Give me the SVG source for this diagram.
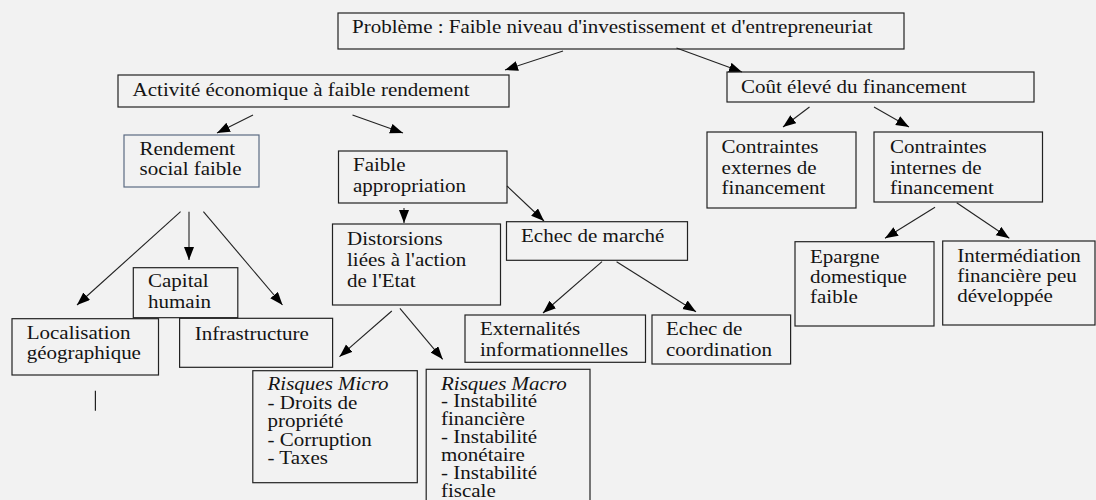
<svg xmlns="http://www.w3.org/2000/svg" width="1096" height="500" viewBox="0 0 1096 500">
  <defs>
    <marker id="ah" markerUnits="userSpaceOnUse" markerWidth="14" markerHeight="12" refX="13" refY="5" orient="auto">
      <path d="M0,0 L13,5 L0,10 Z" fill="#000"/>
    </marker>
    <style>
      .box { fill: none; stroke: #222; stroke-width: 1.2; }
      .box-blue { fill: none; stroke: #5b6b82; stroke-width: 1.2; }
      .t { font-size: 18px; fill: #141414; }
      .it { font-style: italic; }
      .edge { stroke: #222; stroke-width: 1.1; fill: none; marker-end: url(#ah); }
    </style>
  </defs>

  <rect width="1096" height="500" fill="#f2f2f2"/>

  <!-- connectors -->
  <g id="connectors">
    <line class="edge" x1="563" y1="51" x2="505" y2="70"/>
    <line class="edge" x1="676.5" y1="48" x2="742" y2="72"/>
    <line class="edge" x1="253" y1="115" x2="217" y2="133"/>
    <line class="edge" x1="352.5" y1="115" x2="403" y2="133"/>
    <line class="edge" x1="809.5" y1="107" x2="783" y2="127"/>
    <line class="edge" x1="874" y1="107" x2="909" y2="127"/>
    <line class="edge" x1="507" y1="186" x2="544" y2="221"/>
    <line class="edge" x1="404" y1="208" x2="404" y2="223"/>
    <line class="edge" x1="935" y1="207.3" x2="885" y2="238.3"/>
    <line class="edge" x1="956.7" y1="202.7" x2="1009.3" y2="238.3"/>
    <line class="edge" x1="180.6" y1="211.7" x2="77" y2="305"/>
    <line class="edge" x1="189" y1="211.7" x2="189" y2="260"/>
    <line class="edge" x1="203.4" y1="211.7" x2="282.5" y2="305"/>
    <line class="edge" x1="602" y1="261.7" x2="543" y2="313"/>
    <line class="edge" x1="616.6" y1="261.7" x2="696" y2="311.7"/>
    <line class="edge" x1="391.8" y1="311" x2="339.5" y2="356.7"/>
    <line class="edge" x1="399.9" y1="308.3" x2="442.7" y2="359.3"/>
    <line x1="95.4" y1="390.7" x2="95.4" y2="410.7" stroke="#222" stroke-width="1.2"/>
  </g>

  <g id="nodes" font-family="'Liberation Serif', 'DejaVu Serif', serif">
  <g id="n-probleme">
    <rect class="box" x="338" y="13" width="566" height="36"/>
    <text class="t" transform="translate(352,33) scale(1.167,1)">Problème : Faible niveau d'investissement et d'entrepreneuriat</text>
  </g>

  <g id="n-activite">
    <rect class="box" x="118" y="75" width="391" height="32"/>
    <text class="t" transform="translate(132.6,96) scale(1.167,1)">Activité économique à faible rendement</text>
  </g>

  <g id="n-cout">
    <rect class="box" x="727" y="72" width="307" height="30"/>
    <text class="t" transform="translate(741,92.5) scale(1.167,1)">Coût élevé du financement</text>
  </g>

  <g id="n-rendement">
    <rect class="box-blue" x="124" y="135" width="135" height="52"/>
    <text class="t" transform="translate(139.5,155) scale(1.167,1)"><tspan x="0" y="0">Rendement</tspan><tspan x="0" y="20.5">social faible</tspan></text>
  </g>

  <g id="n-appropriation">
    <rect class="box" x="338.5" y="151" width="168.5" height="52"/>
    <text class="t" transform="translate(353,171) scale(1.167,1)"><tspan x="0" y="0">Faible</tspan><tspan x="0" y="21.5">appropriation</tspan></text>
  </g>

  <g id="n-externes">
    <rect class="box" x="707" y="132" width="149" height="76"/>
    <text class="t" transform="translate(721.6,153) scale(1.167,1)"><tspan x="0" y="0">Contraintes</tspan><tspan x="0" y="20.7">externes de</tspan><tspan x="0" y="41.4">financement</tspan></text>
  </g>

  <g id="n-internes">
    <rect class="box" x="874" y="132" width="168.5" height="70"/>
    <text class="t" transform="translate(890,153) scale(1.167,1)"><tspan x="0" y="0">Contraintes</tspan><tspan x="0" y="20.7">internes de</tspan><tspan x="0" y="41.4">financement</tspan></text>
  </g>

  <g id="n-distorsions">
    <rect class="box" x="332.5" y="224" width="168" height="81"/>
    <text class="t" transform="translate(347,245) scale(1.167,1)"><tspan x="0" y="0">Distorsions</tspan><tspan x="0" y="21">liées à l'action</tspan><tspan x="0" y="42">de l'Etat</tspan></text>
  </g>

  <g id="n-echec-marche">
    <rect class="box" x="506.5" y="221.7" width="181" height="38.6"/>
    <text class="t" transform="translate(521,242) scale(1.167,1)">Echec de marché</text>
  </g>

  <g id="n-capital">
    <rect class="box" x="133.3" y="267.7" width="104.5" height="50"/>
    <text class="t" transform="translate(148,287.3) scale(1.167,1)"><tspan x="0" y="0">Capital</tspan><tspan x="0" y="20.5">humain</tspan></text>
  </g>

  <g id="n-localisation">
    <rect class="box" x="12" y="318.7" width="146.5" height="56.3"/>
    <text class="t" transform="translate(26.7,338.5) scale(1.167,1)"><tspan x="0" y="0">Localisation</tspan><tspan x="0" y="21">géographique</tspan></text>
  </g>

  <g id="n-infrastructure">
    <rect class="box" x="179.6" y="318.3" width="153" height="49"/>
    <text class="t" transform="translate(194.7,339.5) scale(1.167,1)">Infrastructure</text>
  </g>

  <g id="n-externalites">
    <rect class="box" x="465" y="315" width="180.5" height="47.3"/>
    <text class="t" transform="translate(480,335) scale(1.167,1)"><tspan x="0" y="0">Externalités</tspan><tspan x="0" y="21">informationnelles</tspan></text>
  </g>

  <g id="n-coordination">
    <rect class="box" x="652" y="315" width="138.6" height="49"/>
    <text class="t" transform="translate(666,335) scale(1.167,1)"><tspan x="0" y="0">Echec de</tspan><tspan x="0" y="21">coordination</tspan></text>
  </g>

  <g id="n-epargne">
    <rect class="box" x="795" y="241.7" width="139" height="84.3"/>
    <text class="t" transform="translate(810,262.5) scale(1.167,1)"><tspan x="0" y="0">Epargne</tspan><tspan x="0" y="20.5">domestique</tspan><tspan x="0" y="41">faible</tspan></text>
  </g>

  <g id="n-intermediation">
    <rect class="box" x="942.7" y="241" width="152.3" height="84"/>
    <text class="t" transform="translate(957.3,261.5) scale(1.167,1)"><tspan x="0" y="0">Intermédiation</tspan><tspan x="0" y="20.5">financière peu</tspan><tspan x="0" y="41">développée</tspan></text>
  </g>

  <g id="n-risques-micro">
    <rect class="box" x="252.8" y="370.7" width="164.5" height="112"/>
    <text class="t" transform="translate(267.5,390) scale(1.167,1)"><tspan class="it" x="0" y="0">Risques Micro</tspan><tspan x="0" y="18.6">- Droits de</tspan><tspan x="0" y="37.2">propriété</tspan><tspan x="0" y="55.8">- Corruption</tspan><tspan x="0" y="74.4">- Taxes</tspan></text>
  </g>

  <g id="n-risques-macro">
    <rect class="box" x="426.2" y="369.3" width="163.8" height="140"/>
    <text class="t" transform="translate(441,389.5) scale(1.167,1)"><tspan class="it" x="0" y="0">Risques Macro</tspan><tspan x="0" y="18">- Instabilité</tspan><tspan x="0" y="36">financière</tspan><tspan x="0" y="54">- Instabilité</tspan><tspan x="0" y="72">monétaire</tspan><tspan x="0" y="90">- Instabilité</tspan><tspan x="0" y="107.5">fiscale</tspan></text>
  </g>
  </g>
</svg>
